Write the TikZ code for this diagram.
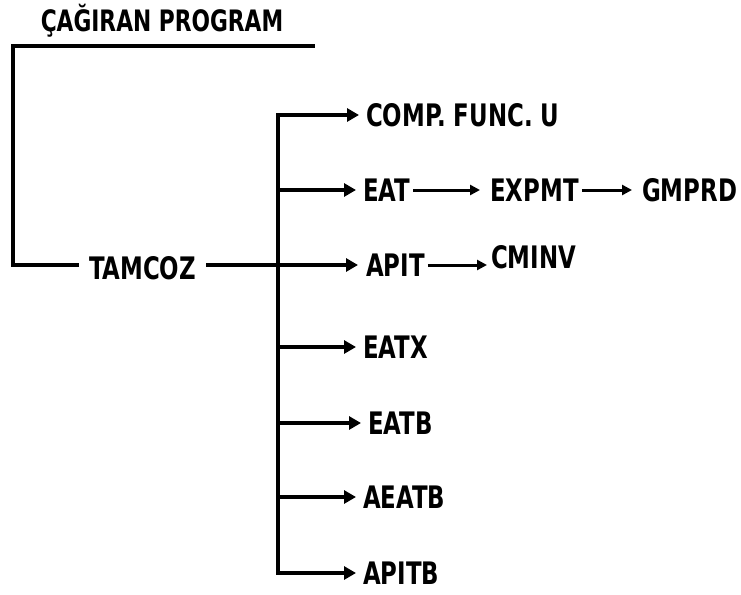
\documentclass[tikz,border=0pt]{standalone}
\usepackage{fontspec}
\setmainfont{DejaVu Sans Condensed}[FakeStretch=0.82]
\usepackage{tikz}
\usetikzlibrary{positioning,arrows.meta,calc}

\begin{document}
\begin{tikzpicture}[
  x=1pt, y=-1pt,
  every node/.style={font=\bfseries\fontsize{31}{33}\selectfont, inner sep=0pt},
  ttl/.style={font=\bfseries\fontsize{29.5}{32}\selectfont},
  lbl/.style={anchor=west},
  wire/.style={line width=3.6pt, line cap=rect},
  arr/.style={wire, -{Triangle[length=12pt,width=13pt]}},
  sarr/.style={line width=3pt, -{Triangle[length=10pt,width=10pt]},
               shorten <=3pt, shorten >=10pt}
]
\useasboundingbox (0,0) rectangle (741,594);

\node[ttl] (caller) at (162,21) {ÇAĞIRAN PROGRAM};
\coordinate (topR) at (313,46);
\coordinate (topL) at (13,46);

\node[inner xsep=12pt] (tamcoz) at (142.5,268) {TAMCOZ};

%% branch points on the bus
\coordinate (bcomp)  at (278,115);
\coordinate (beat)   at (278,190);
\coordinate (bapit)  at (278,265);
\coordinate (beatx)  at (278,347);
\coordinate (beatb)  at (278,423);
\coordinate (baeatb) at (278,497);
\coordinate (bapitb) at (278,573);

%% called routines
\node[lbl] (comp)  at ($(bcomp)+(88,0)$)  {COMP. FUNC. U};
\node[lbl] (eat)   at ($(beat)+(85,0)$)   {EAT};
\node[lbl] (apit)  at ($(bapit)+(88,0)$)  {APIT};
\node[lbl] (eatx)  at ($(beatx)+(85,0)$)  {EATX};
\node[lbl] (eatb)  at ($(beatb)+(90,0)$)  {EATB};
\node[lbl] (aeatb) at ($(baeatb)+(85,0)$) {AEATB};
\node[lbl] (apitb) at ($(bapitb)+(85,0)$) {APITB};

\node[lbl] (expmt) at (490,190) {EXPMT};
\node[lbl] (gmprd) at (642,190) {GMPRD};
\node[lbl] (cminv) at (491,257) {CMINV};

%% frame from the calling program
\draw[wire] (topR) -- (topL) |- (tamcoz.west |- bapit);

%% bus
\draw[wire] (bcomp) -- (bapitb);

\draw[arr, shorten >=8pt] (tamcoz.east |- bapit) -- (apit.west |- bapit);
\foreach \n in {comp,eat,eatx,eatb,aeatb,apitb}
  \draw[arr, shorten >=7pt] (b\n) -- (b\n -| \n.west);

%% second level calls
\draw[sarr] (eat.east)   -- (expmt.west);
\draw[sarr] (expmt.east) -- (gmprd.west);
\draw[sarr, shorten >=4pt] (apit.east |- bapit) -- (cminv.west |- bapit);

\end{tikzpicture}
\end{document}
